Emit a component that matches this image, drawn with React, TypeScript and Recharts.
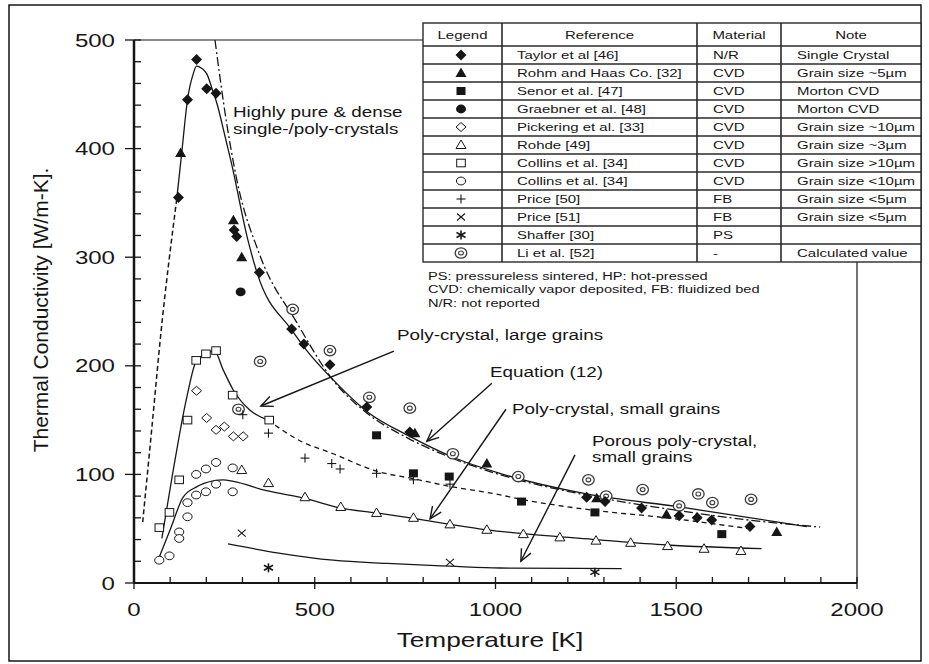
import React from "react";
import { ComposedChart, Line, Scatter, XAxis, YAxis, ReferenceLine } from "recharts";

const W = 929;
const H = 664;
const FONT = "'Liberation Sans', Arial, Helvetica, sans-serif";
const INK = "#161616";

// axis ticks: every entry gets a tick mark, the labelled ones are longer
const xTicks = [0, 100, 200, 300, 400, 500, 600, 700, 800, 900, 1000, 1100, 1200, 1300, 1400, 1500, 1600, 1700, 1800, 1900, 2000];
const xLabels = [0, 500, 1000, 1500, 2000];
const yTicks = [0, 20, 40, 60, 80, 100, 120, 140, 160, 180, 200, 220, 240, 260, 280, 300, 320, 340, 360, 380, 400, 420, 440, 460, 480, 500];
const yLabels = [0, 100, 200, 300, 400, 500];

// measurements: temperature [K] / thermal conductivity [W/m-K]
const taylorT = [123, 148, 173, 201, 227, 277, 284, 347, 436, 470, 542, 644, 763, 1252, 1303, 1404, 1508, 1558, 1598, 1704];
const taylorK = [355, 445, 482, 455, 451, 325, 319, 286, 234, 220, 201, 162, 139, 79, 75, 69, 62, 60, 58, 52];

const rohmT = [129, 275, 298, 777, 976, 1280, 1473, 1778];
const rohmK = [396, 334, 300, 138, 110, 78, 63, 47];

const senorT = [671, 773, 872, 1072, 1275, 1626];
const senorK = [136, 101, 98, 75, 65, 45];

const graebnerT = [295];
const graebnerK = [268];

const pickeringT = [173, 201, 227, 250, 275, 302];
const pickeringK = [177, 152, 141, 144, 135, 135];

const rohdeT = [298, 372, 473, 572, 671, 773, 874, 976, 1077, 1178, 1278, 1374, 1476, 1577, 1679];
const rohdeK = [104, 92, 79, 70, 64.5, 60, 54, 49, 45, 42, 39, 37, 34, 31.5, 29.5];

const collinsLargeT = [70, 98, 125, 148, 172, 199, 227, 273, 374];
const collinsLargeK = [51, 65, 95, 150, 205, 211, 214, 173, 150];

const collinsSmallT = [70, 98, 125, 125, 148, 148, 172, 172, 199, 199, 227, 227, 273, 273];
const collinsSmallK = [21, 25, 47, 41, 61, 74, 81, 100, 84, 105, 91, 111, 84, 106];

const price50T = [301, 372, 473, 547, 570, 671, 773, 874];
const price50K = [155, 138, 115, 110, 105, 101, 95, 91];

const price51T = [298, 874];
const price51K = [46, 19];

const shafferT = [372, 1275];
const shafferK = [14, 10];

const liT = [289, 349, 439, 542, 651, 763, 882, 1063, 1257, 1306, 1407, 1508, 1561, 1600, 1707];
const liK = [160, 204, 252, 214, 171, 161, 119, 98, 95, 80, 86, 71, 82, 74, 77];

// guide curves
const singleLowT = [24, 50, 75, 118];
const singleLowK = [56, 145, 232, 353];

const singleT = [118, 132, 148, 164, 173, 187, 201, 219, 229, 252, 270, 315, 340, 436, 478, 551, 644, 763, 881, 1012, 1252, 1510, 1861];
const singleK = [353, 396, 445, 469, 476, 474, 469, 452, 442, 411, 386, 316, 286, 233, 214, 187, 158, 135, 116, 101, 82, 70, 52];

const equationT = [224, 256, 284, 348, 450, 550, 650, 760, 880, 1000, 1250, 1500, 1700, 1898];
const equationK = [500, 424, 372, 302, 240, 187, 155, 133, 115, 101, 81, 67, 58, 51.5];

const largeT = [77, 104, 146, 173, 199, 222, 247, 275, 321, 370];
const largeK = [41, 95, 171, 205, 211, 214, 196, 177.5, 159, 150];

const largeTailT = [370, 459, 551, 671, 773, 874, 1000, 1072, 1271, 1474, 1713];
const largeTailK = [150, 131, 119, 103, 96, 89, 82, 77, 67, 60, 49.5];

const smallT = [70, 100, 136, 173, 219, 247, 275, 367, 473, 572, 671, 773, 874, 976, 1077, 1278, 1474, 1736];
const smallK = [24, 49, 79, 88.5, 94, 95, 93.5, 85, 78, 69, 64.5, 59.5, 54, 49, 45.5, 40, 35, 31.7];

const porousT = [260, 400, 551, 700, 874, 1012, 1349];
const porousK = [36, 27.6, 21, 18, 15.5, 13.8, 13.3];

// arrows from the curve captions, in data units
const arrows = [
  { from: { x: 719, y: 213.5 }, to: { x: 351, y: 163 } },
  { from: { x: 990, y: 184 }, to: { x: 810, y: 130.5 } },
  { from: { x: 1029, y: 160 }, to: { x: 819, y: 59 } },
  { from: { x: 1220, y: 118 }, to: { x: 1070, y: 20 } },
];

const pts = (t: number[], k: number[]) => t.map((x, i) => ({ x, y: k[i] }));

type P = { cx: number; cy: number };

const FilledDiamond = ({ cx, cy }: P) => (
  <polygon points={`${cx},${cy - 5.5} ${cx + 5.5},${cy} ${cx},${cy + 5.5} ${cx - 5.5},${cy}`} fill={INK} />
);
const FilledTriangle = ({ cx, cy }: P) => (
  <polygon points={`${cx},${cy - 5.5} ${cx + 5.5},${cy + 4} ${cx - 5.5},${cy + 4}`} fill={INK} />
);
const FilledSquare = ({ cx, cy }: P) => <rect x={cx - 4.5} y={cy - 4} width={9} height={8} fill={INK} />;
const FilledCircle = ({ cx, cy }: P) => <ellipse cx={cx} cy={cy} rx={5} ry={4.4} fill={INK} />;
const OpenDiamond = ({ cx, cy }: P) => (
  <polygon points={`${cx},${cy - 4.5} ${cx + 5},${cy} ${cx},${cy + 4.5} ${cx - 5},${cy}`} fill="#fff" stroke={INK} strokeWidth={1} />
);
const OpenTriangle = ({ cx, cy }: P) => (
  <polygon points={`${cx},${cy - 5} ${cx + 5},${cy + 3.5} ${cx - 5},${cy + 3.5}`} fill="#fff" stroke={INK} strokeWidth={1} />
);
const OpenSquare = ({ cx, cy }: P) => (
  <rect x={cx - 4.3} y={cy - 3.8} width={8.6} height={7.6} fill="#fff" stroke={INK} strokeWidth={1} />
);
const OpenCircle = ({ cx, cy }: P) => <ellipse cx={cx} cy={cy} rx={4.6} ry={3.9} fill="#fff" stroke={INK} strokeWidth={1} />;
const PlusMark = ({ cx, cy }: P) => (
  <g stroke={INK} strokeWidth={1.1}>
    <line x1={cx - 4.5} x2={cx + 4.5} y1={cy} y2={cy} />
    <line x1={cx} x2={cx} y1={cy - 4.5} y2={cy + 4.5} />
  </g>
);
const CrossMark = ({ cx, cy }: P) => (
  <g stroke={INK} strokeWidth={1.1}>
    <line x1={cx - 4} x2={cx + 4} y1={cy - 3.5} y2={cy + 3.5} />
    <line x1={cx - 4} x2={cx + 4} y1={cy + 3.5} y2={cy - 3.5} />
  </g>
);
const StarMark = ({ cx, cy }: P) => (
  <g stroke={INK} strokeWidth={1.6}>
    <line x1={cx} x2={cx} y1={cy - 4.5} y2={cy + 4.5} />
    <line x1={cx - 4.5} x2={cx + 4.5} y1={cy - 2.5} y2={cy + 2.5} />
    <line x1={cx - 4.5} x2={cx + 4.5} y1={cy + 2.5} y2={cy - 2.5} />
  </g>
);
const TargetMark = ({ cx, cy }: P) => (
  <g stroke="#3c3c3c" fill="#fff">
    <ellipse cx={cx} cy={cy} rx={5.8} ry={5.2} strokeWidth={1.3} />
    <ellipse cx={cx} cy={cy} rx={2.4} ry={2} strokeWidth={1.1} />
  </g>
);

const legendRows = [
  { Mark: FilledDiamond, ref: "Taylor et al [46]", mat: "N/R", note: "Single Crystal" },
  { Mark: FilledTriangle, ref: "Rohm and Haas Co. [32]", mat: "CVD", note: "Grain size ~5\u00b5m" },
  { Mark: FilledSquare, ref: "Senor et al. [47]", mat: "CVD", note: "Morton CVD" },
  { Mark: FilledCircle, ref: "Graebner et al. [48]", mat: "CVD", note: "Morton CVD" },
  { Mark: OpenDiamond, ref: "Pickering et al. [33]", mat: "CVD", note: "Grain size ~10\u00b5m" },
  { Mark: OpenTriangle, ref: "Rohde [49]", mat: "CVD", note: "Grain size ~3\u00b5m" },
  { Mark: OpenSquare, ref: "Collins et al. [34]", mat: "CVD", note: "Grain size >10\u00b5m" },
  { Mark: OpenCircle, ref: "Collins et al. [34]", mat: "CVD", note: "Grain size <10\u00b5m" },
  { Mark: PlusMark, ref: "Price [50]", mat: "FB", note: "Grain size <5\u00b5m" },
  { Mark: CrossMark, ref: "Price [51]", mat: "FB", note: "Grain size <5\u00b5m" },
  { Mark: StarMark, ref: "Shaffer [30]", mat: "PS", note: "" },
  { Mark: TargetMark, ref: "Li et al. [52]", mat: "-", note: "Calculated value" },
];

const notes = [
  "PS: pressureless sintered, HP: hot-pressed",
  "CVD: chemically vapor deposited, FB: fluidized bed",
  "N/R: not reported",
];

const captions = [
  { x: 233, y: 117, text: "Highly pure & dense" },
  { x: 233, y: 134, text: "single-/poly-crystals" },
  { x: 397, y: 340, text: "Poly-crystal, large grains" },
  { x: 490, y: 377, text: "Equation (12)" },
  { x: 512, y: 414, text: "Poly-crystal, small grains" },
  { x: 592, y: 446, text: "Porous poly-crystal," },
  { x: 592, y: 462, text: "small grains" },
];

// lettering in this figure is drawn wide
const Wide = ({ x, y, size, sx = 1.3, anchor = "start", children }: any) => (
  <text
    transform={`translate(${x},${y}) scale(${sx},1)`}
    fontSize={size}
    fontFamily={FONT}
    fill={INK}
    textAnchor={anchor}
  >
    {children}
  </text>
);

const XTick = (p: any) => {
  const { x, y, payload } = p;
  const major = xLabels.includes(payload.value);
  return (
    <g>
      <line x1={x} x2={x} y1={y - 6} y2={major ? y + 6 : y} stroke={INK} strokeWidth={1.3} />
      {major && (
        <Wide x={x} y={y + 33} size={18.5} anchor="middle">
          {payload.value}
        </Wide>
      )}
    </g>
  );
};

const YTick = (p: any) => {
  const { x, y, payload } = p;
  const major = yLabels.includes(payload.value);
  return (
    <g>
      <line x1={major ? x - 9 : x} x2={x + 7} y1={y} y2={y} stroke={INK} strokeWidth={1.3} />
      {major && (
        <Wide x={x - 19} y={y + 6.6} size={18.5} anchor="end">
          {payload.value}
        </Wide>
      )}
    </g>
  );
};

const Arrow = (p: any) => {
  const { x1, y1, x2, y2 } = p;
  const a = Math.atan2(y2 - y1, x2 - x1);
  const L = 13;
  const s = 0.42;
  const l = `${x2 - L * Math.cos(a - s)},${y2 - L * Math.sin(a - s)}`;
  const r = `${x2 - L * Math.cos(a + s)},${y2 - L * Math.sin(a + s)}`;
  return (
    <g stroke={INK} strokeWidth={1.4} fill="none">
      <line x1={x1} y1={y1} x2={x2} y2={y2} />
      <polyline points={`${l} ${x2},${y2} ${r}`} />
    </g>
  );
};

const curve = (data: { x: number; y: number }[], dash?: string, width = 1.3) => (
  <Line
    data={data}
    dataKey="y"
    type="monotone"
    dot={false}
    activeDot={false}
    stroke={INK}
    strokeWidth={width}
    strokeDasharray={dash}
    isAnimationActive={false}
  />
);

const scatter = (data: { x: number; y: number }[], Mark: (p: P) => React.ReactElement) => (
  <Scatter data={data} dataKey="y" isAnimationActive={false} shape={(p: any) => <Mark cx={p.cx} cy={p.cy} />} />
);

const TABLE_X = [423, 502, 697, 781, 921];
const TABLE_TOP = 23;
const HEAD_H = 23;
const ROW_H = 18;

const Table = () => {
  const bottom = TABLE_TOP + HEAD_H + ROW_H * legendRows.length;
  const headY = TABLE_TOP + HEAD_H / 2 + 4;
  const heads = ["Legend", "Reference", "Material", "Note"];
  return (
    <g>
      <rect x={TABLE_X[0]} y={TABLE_TOP} width={TABLE_X[4] - TABLE_X[0]} height={bottom - TABLE_TOP} fill="#fff" stroke="#2a2a2a" strokeWidth={1.4} />
      {legendRows.map((_, i) => (
        <line key={i} x1={TABLE_X[0]} x2={TABLE_X[4]} y1={TABLE_TOP + HEAD_H + ROW_H * i} y2={TABLE_TOP + HEAD_H + ROW_H * i} stroke="#2a2a2a" strokeWidth={1.3} />
      ))}
      {TABLE_X.slice(1, 4).map((x) => (
        <line key={x} x1={x} x2={x} y1={TABLE_TOP} y2={bottom} stroke="#2a2a2a" strokeWidth={1.6} />
      ))}
      {heads.map((h, i) => (
        <Wide key={h} x={(TABLE_X[i] + TABLE_X[i + 1]) / 2} y={headY} size={11.8} sx={1.27} anchor="middle">
          {h}
        </Wide>
      ))}
      {legendRows.map((r, i) => {
        const cy = TABLE_TOP + HEAD_H + ROW_H * i + ROW_H / 2;
        const Mark = r.Mark;
        return (
          <g key={i}>
            <Mark cx={461} cy={cy} />
            <Wide x={517} y={cy + 4.2} size={11.8} sx={1.27}>{r.ref}</Wide>
            <Wide x={713} y={cy + 4.2} size={11.8} sx={1.27}>{r.mat}</Wide>
            <Wide x={797} y={cy + 4.2} size={11.8} sx={1.27}>{r.note}</Wide>
          </g>
        );
      })}
      {notes.map((n, i) => (
        <Wide key={n} x={428} y={280 + 13.4 * i} size={11.5} sx={1.27}>
          {n}
        </Wide>
      ))}
    </g>
  );
};

export default function App() {
  return (
    <div style={{ position: "absolute", left: 0, top: 0, width: W, height: H, background: "#fff" }}>
      <ComposedChart width={W} height={H} margin={{ top: 40, right: 72, left: 74, bottom: 51 }}>
        <XAxis
          type="number"
          dataKey="x"
          domain={[0, 2000]}
          ticks={xTicks}
          interval={0}
          tickSize={0}
          tickMargin={0}
          tickLine={false}
          height={30}
          axisLine={{ stroke: INK, strokeWidth: 2 }}
          tick={<XTick />}
        />
        <YAxis
          type="number"
          dataKey="y"
          domain={[0, 500]}
          ticks={yTicks}
          interval={0}
          tickSize={0}
          tickMargin={0}
          tickLine={false}
          width={60}
          axisLine={{ stroke: INK, strokeWidth: 2.5 }}
          tick={<YTick />}
        />
        <ReferenceLine y={500} stroke={INK} strokeWidth={1.2} />
        <ReferenceLine x={2000} stroke={INK} strokeWidth={1.2} />

        {curve(pts(singleLowT, singleLowK), "5 3", 1.5)}
        {curve(pts(singleT, singleK))}
        {curve(pts(equationT, equationK), "9 3 2 3")}
        {curve(pts(largeT, largeK))}
        {curve(pts(largeTailT, largeTailK), "5 4")}
        {curve(pts(smallT, smallK))}
        {curve(pts(porousT, porousK))}

        {arrows.map((a, i) => (
          <ReferenceLine key={i} segment={[a.from, a.to]} shape={<Arrow />} />
        ))}

        {scatter(pts(liT, liK), TargetMark)}
        {scatter(pts(collinsSmallT, collinsSmallK), OpenCircle)}
        {scatter(pts(collinsLargeT, collinsLargeK), OpenSquare)}
        {scatter(pts(pickeringT, pickeringK), OpenDiamond)}
        {scatter(pts(rohdeT, rohdeK), OpenTriangle)}
        {scatter(pts(price50T, price50K), PlusMark)}
        {scatter(pts(price51T, price51K), CrossMark)}
        {scatter(pts(shafferT, shafferK), StarMark)}
        {scatter(pts(graebnerT, graebnerK), FilledCircle)}
        {scatter(pts(senorT, senorK), FilledSquare)}
        {scatter(pts(rohmT, rohmK), FilledTriangle)}
        {scatter(pts(taylorT, taylorK), FilledDiamond)}
      </ComposedChart>

      <svg width={W} height={H} style={{ position: "absolute", left: 0, top: 0, pointerEvents: "none" }}>
        <rect x={9} y={5} width={912} height={656} fill="none" stroke={INK} strokeWidth={1.5} />
        <Table />
        {captions.map((c) => (
          <Wide key={c.text} x={c.x} y={c.y} size={14.5}>
            {c.text}
          </Wide>
        ))}
        <Wide x={490} y={647} size={21} sx={1.25} anchor="middle">
          Temperature [K]
        </Wide>
        <text
          transform="translate(48,310) rotate(-90)"
          fontSize={21}
          fontFamily={FONT}
          fill={INK}
          textAnchor="middle"
        >
          Thermal Conductivity [W/m-K].
        </text>
      </svg>
    </div>
  );
}
